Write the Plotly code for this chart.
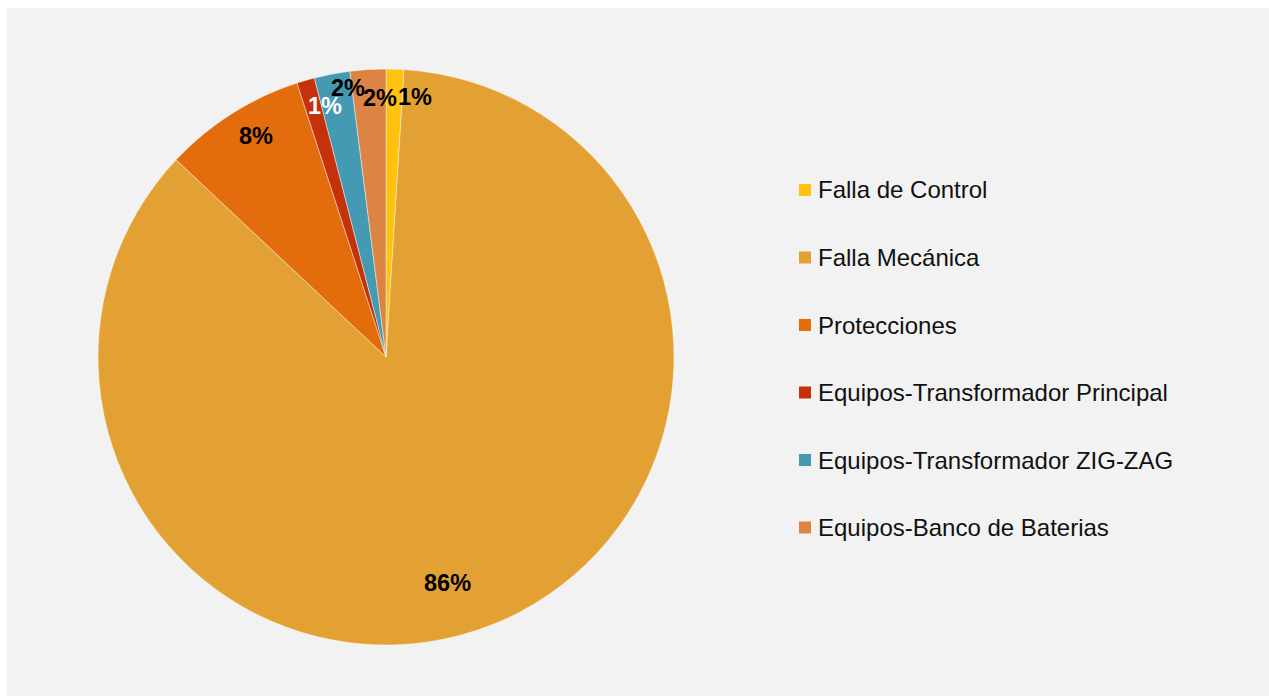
import numpy as np
import plotly.graph_objects as go

# Failure causes and their share of events (%)
categories = [
    "Falla de Control",
    "Falla Mecánica",
    "Protecciones",
    "Equipos-Transformador Principal",
    "Equipos-Transformador ZIG-ZAG",
    "Equipos-Banco de Baterias",
]
values = [1, 86, 8, 1, 2, 2]
colors = ["#FFC20E", "#E4A133", "#E36C0C", "#C4310A", "#4499B3", "#DC8443"]
label_colors = ["black", "black", "black", "white", "black", "black"]

# Label placement tweaks: radial fraction and angular nudge (degrees)
label_radius = [0.908, 0.8125, 0.889, 0.896, 0.944, 0.899]
label_nudge = [4.6, 6.3, 1.9, 2.5, 2.8, 2.3]

W, H = 1269, 696
CX, CY, R = 386, 357, 288
FONT = "Arial, Liberation Sans, sans-serif"

fig = go.Figure(
    go.Pie(
        labels=categories,
        values=values,
        sort=False,
        direction="clockwise",
        rotation=0,
        marker=dict(colors=colors, line=dict(color="rgba(255,255,255,0.55)", width=0.8)),
        textinfo="none",
        hoverinfo="label+percent",
        showlegend=False,
        domain=dict(x=[(CX - R) / W, (CX + R) / W], y=[1 - (CY + R) / H, 1 - (CY - R) / H]),
    )
)

# Percentage labels positioned on each slice's bisector
vals = np.array(values, dtype=float)
total = vals.sum()
ends = np.cumsum(vals) / total * 360.0
starts = ends - vals / total * 360.0
mids = (starts + ends) / 2.0

annotations = []
for i, v in enumerate(values):
    ang = np.radians(mids[i] + label_nudge[i])
    px = CX + R * label_radius[i] * np.sin(ang)
    py = CY - R * label_radius[i] * np.cos(ang)
    annotations.append(
        dict(
            x=px / W, y=1 - py / H, xref="paper", yref="paper",
            text=f"<b>{v / total * 100:.0f}%</b>", showarrow=False,
            xanchor="center", yanchor="middle",
            font=dict(family=FONT, size=23.5, color=label_colors[i]),
        )
    )

# Legend drawn as swatches + text on the right
shapes = [
    dict(type="rect", xref="paper", yref="paper", x0=0, x1=7 / W, y0=0, y1=1,
         fillcolor="white", line=dict(width=0), layer="below"),
    dict(type="rect", xref="paper", yref="paper", x0=0, x1=1, y0=1 - 8 / H, y1=1,
         fillcolor="white", line=dict(width=0), layer="below"),
]
LEG_X, LEG_Y0, LEG_STEP, SW = 799, 190, 67.5, 12
for i, name in enumerate(categories):
    yc = LEG_Y0 + i * LEG_STEP
    shapes.append(
        dict(type="rect", xref="paper", yref="paper",
             x0=LEG_X / W, x1=(LEG_X + SW) / W,
             y0=1 - (yc + SW / 2) / H, y1=1 - (yc - SW / 2) / H,
             fillcolor=colors[i], line=dict(width=0))
    )
    annotations.append(
        dict(x=(LEG_X + SW + 6) / W, y=1 - yc / H, xref="paper", yref="paper",
             text=name, showarrow=False, xanchor="left", yanchor="middle",
             borderpad=0, font=dict(family=FONT, size=24, color="#111111"))
    )

fig.update_layout(
    width=W, height=H,
    margin=dict(l=0, r=0, t=0, b=0),
    paper_bgcolor="#F2F2F2",
    font=dict(family=FONT),
    annotations=annotations,
    shapes=shapes,
)

fig.write_html("out.html")
